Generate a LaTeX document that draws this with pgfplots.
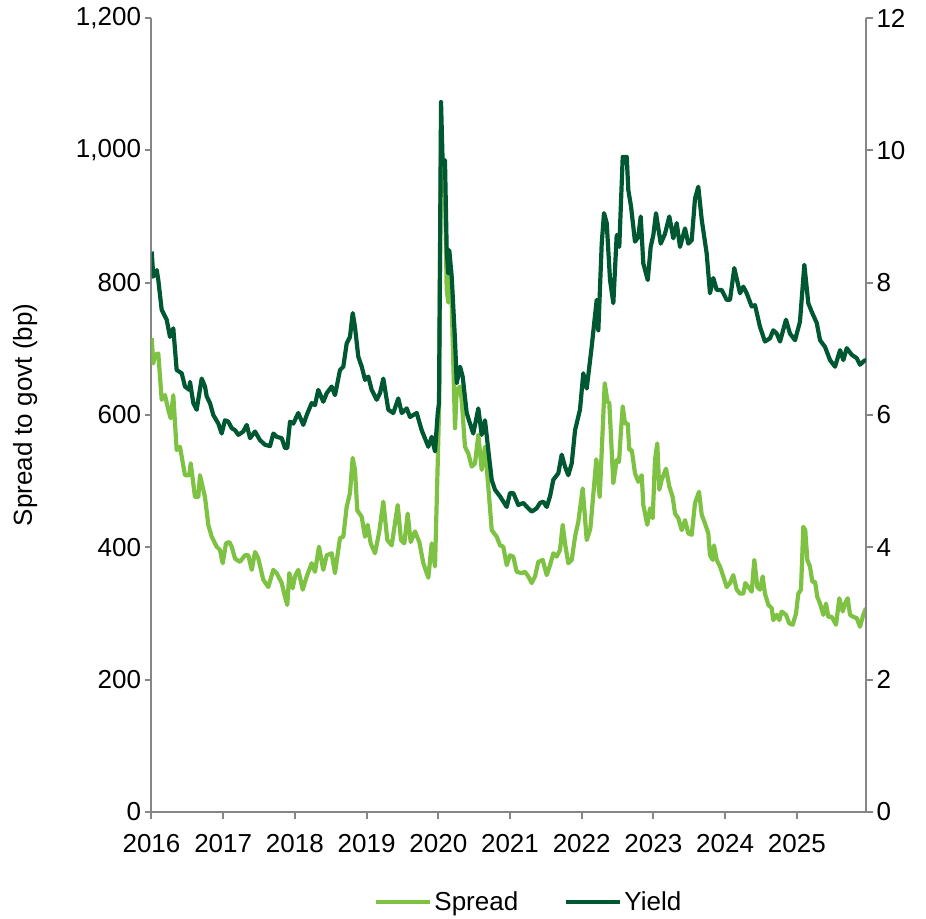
\documentclass[border=0pt]{standalone}
\usepackage{pgfplots}
\pgfplotsset{compat=1.18}
\usepackage{pgfplotstable}
\usepackage{fontspec}
\setmainfont{Liberation Sans}

\definecolor{spreadgreen}{RGB}{125,194,66}
\definecolor{yieldgreen}{RGB}{0,88,50}
\definecolor{axisgrey}{RGB}{134,134,134}

% Spread to government bonds (bp)
\pgfplotstableread{
year spread
2016.003 716
2016.025 678
2016.049 691
2016.095 693
2016.142 623
2016.188 630
2016.234 608
2016.268 595
2016.304 630
2016.351 547
2016.397 552
2016.467 509
2016.527 509
2016.547 527
2016.607 476
2016.653 476
2016.676 509
2016.746 476
2016.792 434
2016.840 416
2016.909 401
2016.955 396
2016.993 376
2017.039 406
2017.085 408
2017.119 401
2017.165 383
2017.234 378
2017.304 388
2017.350 388
2017.398 366
2017.444 393
2017.490 383
2017.559 351
2017.629 340
2017.699 366
2017.746 361
2017.816 346
2017.862 325
2017.894 313
2017.922 361
2017.969 338
2018.001 356
2018.047 366
2018.109 336
2018.165 356
2018.234 376
2018.280 363
2018.336 401
2018.396 366
2018.444 388
2018.513 391
2018.559 361
2018.629 414
2018.675 416
2018.722 461
2018.768 482
2018.806 535
2018.838 517
2018.870 456
2018.932 446
2018.978 416
2019.015 434
2019.057 406
2019.117 391
2019.177 424
2019.233 469
2019.289 411
2019.350 403
2019.434 464
2019.480 411
2019.526 406
2019.573 451
2019.615 408
2019.675 424
2019.735 408
2019.791 376
2019.861 354
2019.908 406
2019.954 371
2019.992 527
2020.010 608
2020.038 1030
2020.061 960
2020.093 940
2020.117 790
2020.139 770
2020.153 810
2020.187 770
2020.233 580
2020.257 638
2020.303 643
2020.326 623
2020.372 552
2020.418 542
2020.466 522
2020.512 527
2020.558 570
2020.605 517
2020.651 552
2020.697 492
2020.745 426
2020.815 416
2020.861 403
2020.906 401
2020.954 373
2021.000 388
2021.046 386
2021.093 363
2021.163 361
2021.209 363
2021.255 356
2021.303 346
2021.349 356
2021.395 378
2021.456 381
2021.512 358
2021.558 373
2021.604 391
2021.651 386
2021.697 396
2021.735 434
2021.767 406
2021.813 376
2021.861 381
2021.907 416
2021.953 439
2022.014 489
2022.070 411
2022.120 428
2022.162 480
2022.204 533
2022.251 476
2022.286 562
2022.321 648
2022.360 620
2022.385 618
2022.441 497
2022.488 532
2022.520 529
2022.544 570
2022.572 613
2022.604 587
2022.642 587
2022.664 547
2022.698 547
2022.743 512
2022.789 499
2022.837 509
2022.859 464
2022.915 434
2022.953 459
2022.990 444
2023.022 532
2023.054 557
2023.082 487
2023.116 502
2023.176 519
2023.222 492
2023.269 476
2023.301 451
2023.347 444
2023.395 426
2023.441 441
2023.487 421
2023.534 419
2023.580 467
2023.636 484
2023.674 449
2023.720 436
2023.766 421
2023.789 388
2023.827 381
2023.845 403
2023.883 381
2023.929 371
2023.975 356
2024.022 340
2024.068 346
2024.114 358
2024.162 336
2024.208 330
2024.254 330
2024.282 346
2024.324 340
2024.371 333
2024.407 381
2024.449 340
2024.487 336
2024.524 356
2024.556 330
2024.603 313
2024.650 308
2024.672 290
2024.720 298
2024.756 290
2024.789 303
2024.849 298
2024.895 285
2024.943 283
2024.989 300
2025.021 330
2025.058 336
2025.091 431
2025.118 426
2025.146 381
2025.184 371
2025.216 348
2025.254 348
2025.286 325
2025.324 315
2025.370 298
2025.407 315
2025.439 295
2025.487 295
2025.547 283
2025.593 323
2025.640 303
2025.672 315
2025.710 323
2025.742 298
2025.788 295
2025.835 293
2025.881 280
2025.927 298
2025.965 308
}\spreadtable

% Yield (%)
\pgfplotstableread{
year yield
2016.003 8.47
2016.025 8.09
2016.073 8.19
2016.095 8.04
2016.142 7.59
2016.188 7.49
2016.212 7.44
2016.258 7.18
2016.304 7.31
2016.351 6.68
2016.421 6.63
2016.467 6.43
2016.527 6.38
2016.537 6.50
2016.583 6.18
2016.630 6.08
2016.700 6.55
2016.746 6.43
2016.770 6.28
2016.816 6.18
2016.862 6.00
2016.932 5.87
2016.979 5.72
2017.025 5.92
2017.071 5.90
2017.119 5.80
2017.165 5.77
2017.211 5.70
2017.280 5.75
2017.328 5.85
2017.374 5.65
2017.444 5.75
2017.513 5.62
2017.583 5.55
2017.653 5.53
2017.699 5.72
2017.746 5.67
2017.816 5.65
2017.862 5.50
2017.894 5.50
2017.932 5.90
2017.978 5.87
2018.047 6.03
2018.117 5.85
2018.165 6.00
2018.234 6.18
2018.280 6.15
2018.326 6.38
2018.396 6.20
2018.444 6.33
2018.513 6.43
2018.559 6.30
2018.629 6.68
2018.675 6.73
2018.722 7.08
2018.768 7.18
2018.806 7.54
2018.838 7.33
2018.884 6.88
2018.932 6.73
2018.978 6.53
2019.024 6.58
2019.071 6.38
2019.141 6.23
2019.187 6.33
2019.233 6.55
2019.303 6.08
2019.372 6.03
2019.442 6.25
2019.490 6.03
2019.559 6.10
2019.605 5.97
2019.699 6.03
2019.768 5.77
2019.861 5.52
2019.908 5.67
2019.954 5.45
2019.992 6.03
2020.010 6.18
2020.038 10.73
2020.061 9.80
2020.093 9.85
2020.117 8.49
2020.139 8.14
2020.153 8.49
2020.187 8.09
2020.233 7.13
2020.257 6.48
2020.303 6.73
2020.340 6.58
2020.396 6.03
2020.442 5.87
2020.488 5.72
2020.558 6.10
2020.605 5.70
2020.651 5.92
2020.697 5.47
2020.745 5.02
2020.791 4.87
2020.861 4.77
2020.954 4.61
2021.000 4.82
2021.046 4.82
2021.116 4.64
2021.186 4.67
2021.255 4.59
2021.303 4.54
2021.372 4.59
2021.418 4.67
2021.464 4.69
2021.512 4.61
2021.558 4.77
2021.604 5.02
2021.674 5.12
2021.721 5.40
2021.767 5.22
2021.813 5.09
2021.861 5.27
2021.907 5.77
2021.976 6.08
2022.022 6.63
2022.070 6.40
2022.139 7.03
2022.209 7.74
2022.232 7.28
2022.279 8.59
2022.311 9.05
2022.349 8.90
2022.395 8.04
2022.441 7.69
2022.488 8.72
2022.524 8.54
2022.572 9.90
2022.628 9.90
2022.650 9.40
2022.688 9.15
2022.743 8.62
2022.789 8.69
2022.823 9.00
2022.859 8.29
2022.921 8.04
2022.962 8.54
2022.999 8.72
2023.036 9.05
2023.102 8.59
2023.162 8.74
2023.222 9.00
2023.278 8.67
2023.325 8.90
2023.371 8.54
2023.441 8.82
2023.487 8.59
2023.534 8.64
2023.580 9.27
2023.626 9.45
2023.674 8.95
2023.743 8.44
2023.789 7.84
2023.835 8.07
2023.883 7.89
2023.952 7.89
2024.022 7.74
2024.068 7.74
2024.128 8.22
2024.208 7.84
2024.254 7.94
2024.301 7.84
2024.371 7.64
2024.417 7.66
2024.487 7.33
2024.556 7.11
2024.626 7.16
2024.672 7.28
2024.720 7.23
2024.766 7.11
2024.849 7.44
2024.905 7.23
2024.975 7.13
2025.044 7.41
2025.105 8.27
2025.160 7.69
2025.208 7.56
2025.278 7.39
2025.324 7.13
2025.393 7.03
2025.463 6.83
2025.533 6.73
2025.603 6.98
2025.649 6.83
2025.696 7.01
2025.766 6.91
2025.835 6.86
2025.881 6.76
2025.951 6.83
2025.965 6.82
}\yieldtable

\pgfplotsset{
  chartbase/.style={
    scale only axis,
    width=714.5pt, height=794pt,
    xmin=2016, xmax=2025.965,
    axis line style={axisgrey, line width=2pt},
    every tick/.style={axisgrey, line width=2pt},
    tick align=outside,
    major tick length=7pt,
    tick label style={font=\fontsize{26}{31}\selectfont, text=black},
    label style={font=\fontsize{26}{31}\selectfont},
    legend style={font=\fontsize{26}{31}\selectfont},
    /pgf/number format/assume math mode=true,
  },
}

\begin{document}
\begin{tikzpicture}
\begin{axis}[
  chartbase,
  name=main,
  ymin=0, ymax=1200,
  axis x line*=bottom,
  axis y line*=left,
  xtick={2016,2017,2018,2019,2020,2021,2022,2023,2024,2025},
  xticklabels={2016,2017,2018,2019,2020,2021,2022,2023,2024,2025},
  xticklabel style={yshift=-12pt},
  ytick={0,200,400,600,800,1000,1200},
  yticklabels={0,200,400,600,800,{1,000},{1,200}},
  ylabel={Spread to govt (bp)},
  y label style={at={(axis description cs:-0.177,0.5)}, anchor=center},
]
\addplot[spreadgreen, line width=4.2pt, line join=round] table[x=year, y=spread] {\spreadtable};
\end{axis}

\begin{axis}[
  chartbase,
  ymin=0, ymax=12,
  axis x line=none,
  axis y line*=right,
  ytick={0,2,4,6,8,10,12},
  legend columns=2,
  legend style={at={(axis description cs:0.528,-0.113)}, anchor=center,
    draw=none, fill=none,
    /tikz/every even column/.append style={column sep=44pt}},
  legend image code/.code={\draw[#1] (0pt,0pt) -- (54pt,0pt);},
]
\addlegendimage{spreadgreen, line width=4.2pt}
\addlegendentry{Spread}
\addplot[yieldgreen, line width=4.2pt, line join=round] table[x=year, y=yield] {\yieldtable};
\addlegendentry{Yield}
\end{axis}

\path ([shift={(-151.5pt,-106pt)}]main.south west) rectangle ([shift={(60pt,18pt)}]main.north east);
\end{tikzpicture}
\end{document}
